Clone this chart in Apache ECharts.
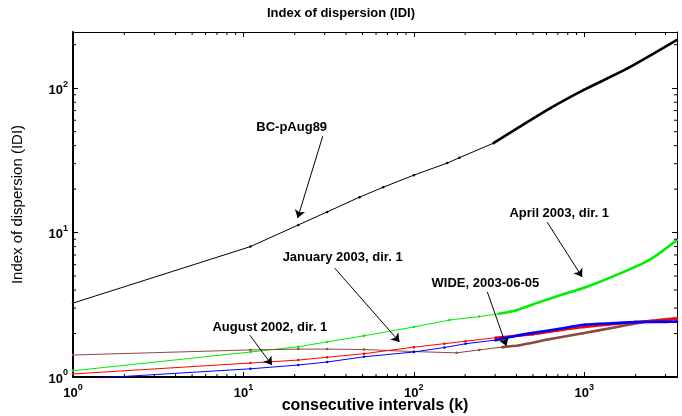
<!DOCTYPE html>
<html>
<head>
<meta charset="utf-8">
<script src="https://cdn.jsdelivr.net/npm/echarts@6/dist/echarts.min.js"></script>
<style>html,body{margin:0;padding:0;background:#fff}#c{width:682px;height:416px}</style>
</head>
<body>
<div id="c"></div>
<script>
// ---- data ----
const bcK = [1, 11, 21, 31, 48, 66, 100, 157, 185, 293, 632, 988, 1791, 3500];
const bcV = [3.25, 8.0, 11.3, 13.9, 17.6, 20.6, 25, 30.3, 33, 41.6, 72.7, 97, 137, 216];

const aprK = [1, 11, 21, 31, 51, 100, 162, 242, 316, 400, 545, 783, 1000, 1538, 2400, 3500];
const aprV = [1.105, 1.49, 1.62, 1.75, 1.93, 2.22, 2.48, 2.62, 2.74, 2.9, 3.3, 3.8, 4.15, 5.08, 6.45, 8.9];

const janK = [1, 11, 21, 31, 51, 100, 151, 201, 301, 401, 501, 701, 1001, 1501, 2001, 3001, 3500];
const janV = [1.05, 1.25, 1.31, 1.37, 1.45, 1.61, 1.7, 1.77, 1.87, 1.93, 1.98, 2.1, 2.22, 2.33, 2.4, 2.48, 2.52];

const augK = [1, 11, 21, 31, 51, 100, 151, 201, 301, 401, 501, 701, 1001, 1501, 2001, 3001, 3500];
const augV = [0.96, 1.14, 1.21, 1.27, 1.38, 1.49, 1.6, 1.7, 1.8, 1.93, 2.02, 2.15, 2.3, 2.36, 2.4, 2.41, 2.42];

const wideK = [1, 11, 21, 31, 51, 100, 178, 242, 330, 417, 600, 980, 1500, 2190, 3500];
const wideV = [1.42, 1.54, 1.56, 1.56, 1.55, 1.5, 1.47, 1.54, 1.61, 1.66, 1.81, 2.01, 2.2, 2.4, 2.56];

const xMajorTicks = [1, 10, 100, 1000];
const yMajorTicks = [1, 10, 100];

// annotation texts and their anchor points (data space)
const noteText = ['BC-pAug89', 'April 2003, dir. 1', 'January 2003, dir. 1', 'WIDE, 2003-06-05', 'August 2002, dir. 1'];
const noteAt   = [[19.2, 53.7], [713, 13.6], [38.2, 6.77], [263, 4.47], [14.3, 2.22]];
const arrowFrom = [[29.2, 46.5], [606, 11.8], [34.3, 5.68], [270, 3.88], [10.9, 1.95]];
const arrowTo   = [[20.8, 12.6], [972, 4.92], [82.4, 1.75], [349, 1.64], [14.7, 1.21]];

// ---- layout constants ----
const X_MIN = 1, X_MAX = 3500, Y_MIN = 1, Y_MAX = 245;
const FONT = '"Liberation Sans", Arial, Helvetica, sans-serif';

const xMinor = [], yMinor = [];
[1, 10, 100, 1000].forEach(d => { for (let m = 2; m <= 9; m++) { const v = m * d; if (v < X_MAX) xMinor.push(v); } });
[1, 10, 100].forEach(d => { for (let m = 2; m <= 9; m++) { const v = m * d; if (v < Y_MAX) yMinor.push(v); } });

function pairs(ks, vs) { return ks.map((k, i) => [k, vs[i]]); }
function tail(ks, vs, from) { return pairs(ks, vs).filter(p => p[0] >= from); }

function powLabel(val, majors) {
  for (const m of majors) {
    if (Math.abs(val - m) < 1e-6 * m) return '{b|10}{s|' + Math.round(Math.log10(m)) + '}';
  }
  return '';
}
const labelRich = {
  b: { fontFamily: FONT, fontWeight: 'bold', fontSize: 13, color: '#000', lineHeight: 17, verticalAlign: 'bottom' },
  s: { fontFamily: FONT, fontWeight: 'bold', fontSize: 9, color: '#000', lineHeight: 9, verticalAlign: 'top' }
};

const curves = [
  { name: 'BC-pAug89', d: pairs(bcK, bcV), t: tail(bcK, bcV, 290), c: '#000000' },
  { name: 'April 2003, dir. 1', d: pairs(aprK, aprV), t: tail(aprK, aprV, 300), c: '#00ee00' },
  { name: 'WIDE, 2003-06-05', d: pairs(wideK, wideV), t: tail(wideK, wideV, 320), c: '#8c4a3c' },
  { name: 'January 2003, dir. 1', d: pairs(janK, janV), t: tail(janK, janV, 300), c: '#ff0000' },
  { name: 'August 2002, dir. 1', d: pairs(augK, augV), t: tail(augK, augV, 300), c: '#0000ff' }
];

const series = [];
curves.forEach(cv => {
  series.push({
    type: 'line', name: cv.name, data: cv.d, xAxisIndex: 0, yAxisIndex: 0,
    showSymbol: true, symbol: 'circle', symbolSize: 2.5,
    lineStyle: { color: cv.c, width: 1 }, itemStyle: { color: cv.c },
    silent: true, animation: false, clip: true, z: 3
  });
  series.push({
    type: 'line', name: cv.name + ' dense', data: cv.t, xAxisIndex: 0, yAxisIndex: 0,
    showSymbol: false, smooth: 0.25, lineStyle: { color: cv.c, width: 2.6 }, itemStyle: { color: cv.c },
    silent: true, animation: false, clip: true, z: 4
  });
});

// annotations
series.push({
  type: 'line', name: 'notes', data: [], xAxisIndex: 0, yAxisIndex: 0, silent: true, animation: false,
  markLine: {
    silent: true, animation: false, symbol: ['none', 'arrow'], symbolSize: 8,
    label: { show: false },
    lineStyle: { color: '#000', width: 1, type: 'solid' },
    emphasis: { disabled: true },
    data: arrowFrom.map((f, i) => [{ coord: f }, { coord: arrowTo[i] }])
  },
  markPoint: {
    silent: true, animation: false, symbol: 'circle', symbolSize: 1,
    itemStyle: { color: 'rgba(0,0,0,0)' },
    label: { show: true, position: 'inside', fontFamily: FONT, fontWeight: 'bold', fontSize: 13, color: '#000' },
    data: noteAt.map((p, i) => ({ coord: p, value: noteText[i], label: { formatter: noteText[i] } }))
  }
});

// minor ticks drawn through the axes' scales
series.push({
  type: 'custom', name: 'xminor', xAxisIndex: 0, yAxisIndex: 0, silent: true, animation: false, clip: false, z: 10,
  data: xMinor.map(v => [v, Y_MIN]),
  renderItem: (params, api) => {
    const v = api.value(0);
    const b = api.coord([v, Y_MIN]), t = api.coord([v, Y_MAX]);
    return { type: 'group', children: [
      { type: 'line', shape: { x1: b[0], y1: b[1], x2: b[0], y2: b[1] - 3 }, style: { stroke: '#000', lineWidth: 1 } },
      { type: 'line', shape: { x1: t[0], y1: t[1], x2: t[0], y2: t[1] + 3 }, style: { stroke: '#000', lineWidth: 1 } }
    ]};
  }
});
series.push({
  type: 'custom', name: 'yminor', xAxisIndex: 0, yAxisIndex: 0, silent: true, animation: false, clip: false, z: 10,
  data: yMinor.map(v => [X_MIN, v]),
  renderItem: (params, api) => {
    const v = api.value(1);
    const l = api.coord([X_MIN, v]), r = api.coord([X_MAX, v]);
    return { type: 'group', children: [
      { type: 'line', shape: { x1: l[0], y1: l[1], x2: l[0] + 3, y2: l[1] }, style: { stroke: '#000', lineWidth: 1 } },
      { type: 'line', shape: { x1: r[0], y1: r[1], x2: r[0] - 3, y2: r[1] }, style: { stroke: '#000', lineWidth: 1 } }
    ]};
  }
});

const baseAxis = {
  type: 'log', logBase: 10, splitLine: { show: false }, minorTick: { show: false },
  axisTick: { show: true, inside: true, length: 5, lineStyle: { color: '#000', width: 1 } }
};

const option = {
  backgroundColor: '#fff',
  animation: false,
  title: {
    text: 'Index of dispersion (IDI)', left: 'center', top: 2,
    textStyle: { fontFamily: FONT, fontWeight: 'bold', fontSize: 13, color: '#000' }
  },
  grid: { left: 73, right: 5, top: 32, bottom: 39, containLabel: false, outerBoundsMode: 'none' },
  xAxis: [
    Object.assign({}, baseAxis, {
      position: 'bottom', min: X_MIN, max: X_MAX,
      axisLine: { show: true, lineStyle: { color: '#000', width: 2 } },
      axisLabel: { show: true, margin: 6, formatter: v => powLabel(v, xMajorTicks), rich: labelRich, showMaxLabel: false },
      name: 'consecutive intervals (k)', nameLocation: 'middle', nameGap: 21, nameMoveOverlap: false,
      nameTextStyle: { fontFamily: FONT, fontWeight: 'bold', fontSize: 16, color: '#000' }
    }),
    Object.assign({}, baseAxis, {
      position: 'top', min: X_MIN, max: X_MAX,
      axisLine: { show: true, lineStyle: { color: '#000', width: 1 } },
      axisLabel: { show: false }
    })
  ],
  yAxis: [
    Object.assign({}, baseAxis, {
      position: 'left', min: Y_MIN, max: Y_MAX,
      axisLine: { show: true, lineStyle: { color: '#000', width: 2 } },
      axisLabel: { show: true, margin: 5, formatter: v => powLabel(v, yMajorTicks), rich: labelRich, showMaxLabel: false },
      name: 'Index of dispersion (IDI)', nameLocation: 'middle', nameGap: 48, nameRotate: 90, nameMoveOverlap: false,
      nameTextStyle: { fontFamily: FONT, fontWeight: 'normal', fontSize: 15, color: '#000' }
    }),
    Object.assign({}, baseAxis, {
      position: 'right', min: Y_MIN, max: Y_MAX,
      axisLine: { show: true, lineStyle: { color: '#000', width: 1 } },
      axisLabel: { show: false }
    })
  ],
  series: series
};

const chart = echarts.init(document.getElementById('c'), null, { renderer: 'canvas' });
chart.setOption(option);
</script>
</body>
</html>
